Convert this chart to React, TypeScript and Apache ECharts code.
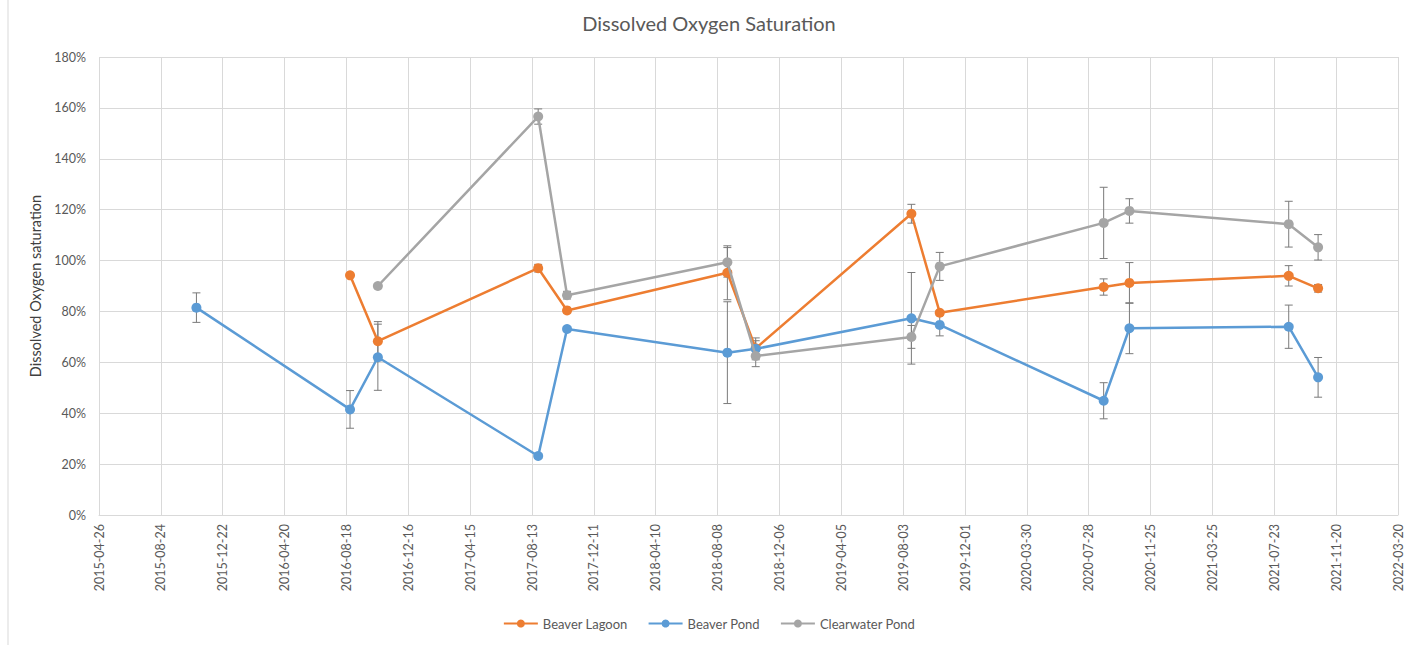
import React, { useEffect, useRef } from "react";
import * as echarts from "echarts";

const seriesNames = ["Beaver Lagoon", "Beaver Pond", "Clearwater Pond"];
const seriesColors = ["#ED7D31", "#5B9BD5", "#A5A5A5"];

const lagoonDates = ["2016-08-25", "2016-10-18", "2017-08-25", "2017-10-20", "2018-08-27", "2018-10-21", "2019-08-19", "2019-10-13", "2020-08-26", "2020-10-15", "2021-08-20", "2021-10-16"];
const lagoonValues = [94.2, 68.3, 97.0, 80.4, 95.2, 65.5, 118.4, 79.5, 89.6, 91.2, 94.0, 89.1];
const lagoonErrors = [0, 7.7, 1.5, 1.0, 10.6, 3.0, 3.7, 0, 3.2, 8.0, 4.0, 1.5];

const pondDates = ["2015-11-01", "2016-08-25", "2016-10-18", "2017-08-25", "2017-10-20", "2018-08-27", "2018-10-21", "2019-08-19", "2019-10-13", "2020-08-26", "2020-10-15", "2021-08-20", "2021-10-16"];
const pondValues = [81.5, 41.5, 62.0, 23.2, 73.1, 63.8, 65.3, 77.3, 74.7, 44.9, 73.4, 74.0, 54.1];
const pondErrors = [5.8, 7.4, 13.0, 1.0, 1.0, 20.0, 4.3, 18.0, 4.3, 7.1, 10.0, 8.5, 7.8];

const clearDates = ["2016-10-18", "2017-08-25", "2017-10-20", "2018-08-27", "2018-10-21", "2019-08-19", "2019-10-13", "2020-08-26", "2020-10-15", "2021-08-20", "2021-10-16"];
const clearValues = [90.0, 156.6, 86.4, 99.3, 62.5, 70.0, 97.7, 114.8, 119.5, 114.3, 105.2];
const clearErrors = [0, 3.0, 1.5, 5.8, 4.2, 4.5, 5.5, 14.0, 4.8, 9.0, 5.0];

const axisStartDate = "2015-04-26";
const axisEndDate = "2022-03-20";
const xTickDays = 120;
const yMin = 0;
const yMax = 180;
const yStep = 20;

const DAY = 86400000;
const toUTC = (s: string) => {
  const [y, m, d] = s.split("-").map(Number);
  return Date.UTC(y, m - 1, d);
};
const startMs = toUTC(axisStartDate);
const toDays = (s: string) => Math.round((toUTC(s) - startMs) / DAY);
const fmtDay = (v: number) => new Date(startMs + Math.round(v) * DAY).toISOString().slice(0, 10);

const FONT = "Lato";
const TEXT = "#595959";

export default function App() {
  const ref = useRef<HTMLDivElement>(null);
  useEffect(() => {
    if (!ref.current) return;
    const chart = echarts.init(ref.current, undefined, { renderer: "svg" });
    const groups = [
      [lagoonDates, lagoonValues, lagoonErrors],
      [pondDates, pondValues, pondErrors],
      [clearDates, clearValues, clearErrors],
    ] as [string[], number[], number[]][];

    const errSeries = groups.map(([d, v, e], i) => ({
      type: "custom",
      name: seriesNames[i] + " err",
      z: 1,
      silent: true,
      encode: { x: 0, y: 1 },
      data: d.map((s, k) => [toDays(s), v[k], e[k]]),
      renderItem: (_p: any, api: any) => {
        const x = api.value(0);
        const y = api.value(1);
        const e = api.value(2);
        if (!e) return null;
        const t = api.coord([x, y + e]);
        const b = api.coord([x, y - e]);
        const st = { stroke: "#7A7A7A", lineWidth: 1 };
        return {
          type: "group",
          children: [
            { type: "line", shape: { x1: t[0], y1: t[1], x2: b[0], y2: b[1] }, style: st },
            { type: "line", shape: { x1: t[0] - 4, y1: t[1], x2: t[0] + 4, y2: t[1] }, style: st },
            { type: "line", shape: { x1: b[0] - 4, y1: b[1], x2: b[0] + 4, y2: b[1] }, style: st },
          ],
        };
      },
    }));

    const lineSeries = groups.map(([d, v], i) => ({
      type: "line",
      name: seriesNames[i],
      z: 2 + i,
      data: d.map((s, k) => [toDays(s), v[k]]),
      symbol: "circle",
      symbolSize: 10,
      showSymbol: true,
      lineStyle: { width: 2.5, color: seriesColors[i] },
      itemStyle: { color: seriesColors[i] },
    }));

    chart.setOption({
      animation: false,
      textStyle: { fontFamily: FONT },
      title: {
        text: "Dissolved Oxygen Saturation",
        left: "center",
        top: 8,
        textStyle: { fontFamily: FONT, fontSize: 20, fontWeight: "normal", color: TEXT },
      },
      legend: {
        data: seriesNames,
        bottom: 10,
        left: "center",
        itemWidth: 34,
        itemHeight: 10,
        itemGap: 20,
        textStyle: { fontFamily: FONT, fontSize: 13, color: TEXT },
      },
      grid: { left: 99, right: 20, top: 57, bottom: 130, containLabel: false },
      xAxis: {
        type: "value",
        min: 0,
        max: toDays(axisEndDate),
        interval: xTickDays,
        axisLine: { show: true, lineStyle: { color: "#D9D9D9" } },
        axisTick: { show: false },
        splitLine: { show: true, lineStyle: { color: "#D9D9D9", width: 1 } },
        axisLabel: {
          rotate: 90,
          margin: 9,
          color: TEXT,
          fontFamily: FONT,
          fontSize: 12.5,
          formatter: (v: number) => fmtDay(v),
        },
      },
      yAxis: {
        type: "value",
        min: yMin,
        max: yMax,
        interval: yStep,
        name: "Dissolved Oxygen saturation",
        nameLocation: "middle",
        nameRotate: 90,
        nameGap: 51,
        nameTextStyle: { fontFamily: FONT, fontSize: 14.5, color: "#404040" },
        axisLine: { show: false },
        axisTick: { show: false },
        splitLine: { show: true, lineStyle: { color: "#D9D9D9", width: 1 } },
        axisLabel: {
          margin: 13,
          color: TEXT,
          fontFamily: FONT,
          fontSize: 12.5,
          formatter: (v: number) => v + "%",
        },
      },
      graphic: [
        { type: "line", shape: { x1: 8, y1: 0, x2: 8, y2: 645 }, style: { stroke: "#D9D9D9", lineWidth: 1 } },
      ],
      series: [...errSeries, ...lineSeries],
    });
    return () => chart.dispose();
  }, []);
  return (
    <div
      ref={ref}
      style={{ position: "fixed", left: 0, top: 0, width: 1418, height: 645, background: "#fff" }}
    />
  );
}
